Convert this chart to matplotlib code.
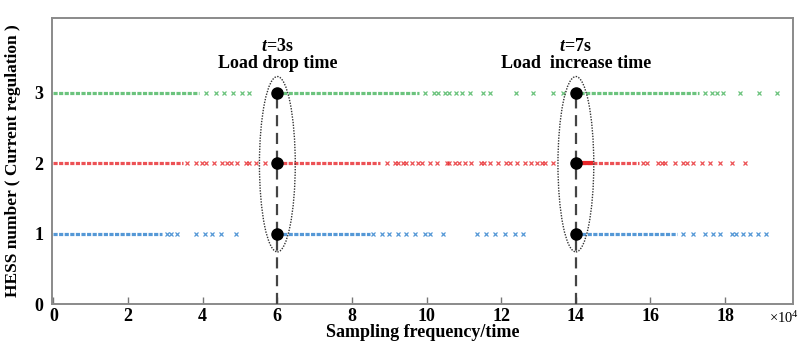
import matplotlib
matplotlib.use("Agg")
import matplotlib.pyplot as plt
from matplotlib.patches import Ellipse

plt.rcParams['font.family'] = ['Liberation Serif', 'DejaVu Serif']
plt.rcParams['mathtext.fontset'] = 'custom'
plt.rcParams['mathtext.rm'] = 'Liberation Serif'
plt.rcParams['mathtext.it'] = 'Liberation Serif:italic:bold'
plt.rcParams['mathtext.bf'] = 'Liberation Serif:bold'

# ---------------- data ----------------
green_level = 3
red_level = 2
blue_level = 1

green_dense = [(0.0, 3.9), (6.0, 9.8), (14.1, 17.3)]
green_sparse = [4.1, 4.35, 4.56, 4.8, 5.04, 5.23,
                9.95, 10.2, 10.3, 10.5, 10.6, 10.8, 10.95, 11.15, 11.5, 11.7, 12.4, 12.85,
                13.4, 13.65,
                17.45, 17.64, 17.77, 17.94, 18.4, 18.9, 19.4]

red_dense = [(0.0, 3.46), (6.0, 8.74), (14.0, 15.7)]
red_solid = [(14.0, 14.4)]
red_sparse = [3.57, 3.83, 3.97, 4.1, 4.3, 4.53, 4.64, 4.77, 4.93, 5.17, 5.25, 5.44, 5.66,
              8.93, 9.14, 9.22, 9.36, 9.46, 9.62, 9.76, 9.87, 10.08, 10.29, 10.54, 10.6,
              10.75, 10.88, 11.02, 11.2, 11.47, 11.55, 11.69, 11.9, 12.14, 12.23, 12.41,
              12.63, 12.8, 12.95, 13.08, 13.16, 13.38,
              15.8, 15.9, 16.2, 16.3, 16.4, 16.65, 16.86, 16.97, 17.13, 17.37, 17.59,
              17.86, 18.18, 18.53]

blue_dense = [(0.0, 2.92), (6.0, 8.47), (14.0, 16.7)]
blue_sparse = [3.03, 3.16, 3.3, 3.83, 4.05, 4.26, 4.5, 4.9,
               8.55, 8.8, 9.0, 9.22, 9.46, 9.7, 9.95, 10.08, 10.43, 11.34, 11.6, 11.82,
               12.09, 12.36, 12.57,
               16.86, 17.13, 17.45, 17.67, 17.86, 18.18, 18.3, 18.47, 18.66, 18.87, 19.1]

event_x = [6, 14]
event_levels = [1, 2, 3]
event_time_labels = ["3s", "7s"]
event_names = ["Load drop time", "Load  increase time"]
ellipse_y = (0.74, 3.23)
ellipse_w = 0.96

xticks = [0, 2, 4, 6, 8, 10, 12, 14, 16, 18]
yticks = [0, 1, 2, 3]

GREEN = '#46b45c'
RED = '#e8262a'
BLUE = '#2a7fcc'

# ---------------- figure ----------------
fig = plt.figure(figsize=(8.07, 3.48), dpi=100)
ax = fig.add_axes([0.0644, 0.1264, 0.9827 - 0.0644, 0.948 - 0.1264])


def draw_row(dense, sparse, level, color):
    for a, b in dense:
        ax.plot([a, b], [level, level], color=color, lw=2.3,
                linestyle=(0, (1.3, 0.45)), alpha=0.8, solid_capstyle='butt', zorder=2)
    ax.plot(sparse, [level] * len(sparse), linestyle='none', marker='x',
            ms=3.2, mew=0.9, color=color, alpha=0.8, zorder=2)


draw_row(green_dense, green_sparse, green_level, GREEN)
draw_row(red_dense, red_sparse, red_level, RED)
draw_row(blue_dense, blue_sparse, blue_level, BLUE)
for a, b in red_solid:
    ax.plot([a, b], [red_level, red_level], color=RED, lw=3, zorder=2)

for ex, tl, name in zip(event_x, event_time_labels, event_names):
    ax.plot([ex, ex], [0, max(event_levels)], color='#444444', lw=1.6,
            linestyle=(0, (5, 3)), zorder=3)
    ax.plot([ex] * len(event_levels), event_levels, linestyle='none', marker='o',
            ms=8, color='black', zorder=5)
    ell = Ellipse((ex, sum(ellipse_y) / 2), ellipse_w, ellipse_y[1] - ellipse_y[0],
                  fill=False, linestyle=(0, (1, 1)), lw=1.0, edgecolor='#333333', zorder=4)
    ax.add_patch(ell)
    ax.text(ex, 3.66, '$\\it{t}$' + '=' + tl, ha='center', va='center',
            fontsize=13, fontweight='bold')
    ax.text(ex, 3.41, name, ha='center', va='center', fontsize=13, fontweight='bold')

ax.set_xlim(-0.04, 19.82)
ax.set_ylim(0, 4.06)
ax.set_xticks(xticks)
ax.set_yticks(yticks)
ax.set_xticklabels([str(v) for v in xticks], fontsize=13, fontweight='bold')
ax.set_yticklabels([str(v) for v in yticks], fontsize=13, fontweight='bold')
ax.tick_params(axis='x', direction='in', length=5, width=1, color='#777777', pad=3)
ax.tick_params(axis='y', direction='in', length=0, pad=6)
for s in ax.spines.values():
    s.set_color('#8a8a8a')
    s.set_linewidth(1.4)

ax.set_xlabel('Sampling frequency/time', fontsize=13, fontweight='bold', labelpad=-1)
ax.set_ylabel('HESS number ( Current regulation )', fontsize=12.5, fontweight='bold', labelpad=10)

fig.text(0.953, 0.085, r'$\times10^4$', fontsize=10.5, ha='left', va='center')

fig.savefig('out.png', dpi=100)
